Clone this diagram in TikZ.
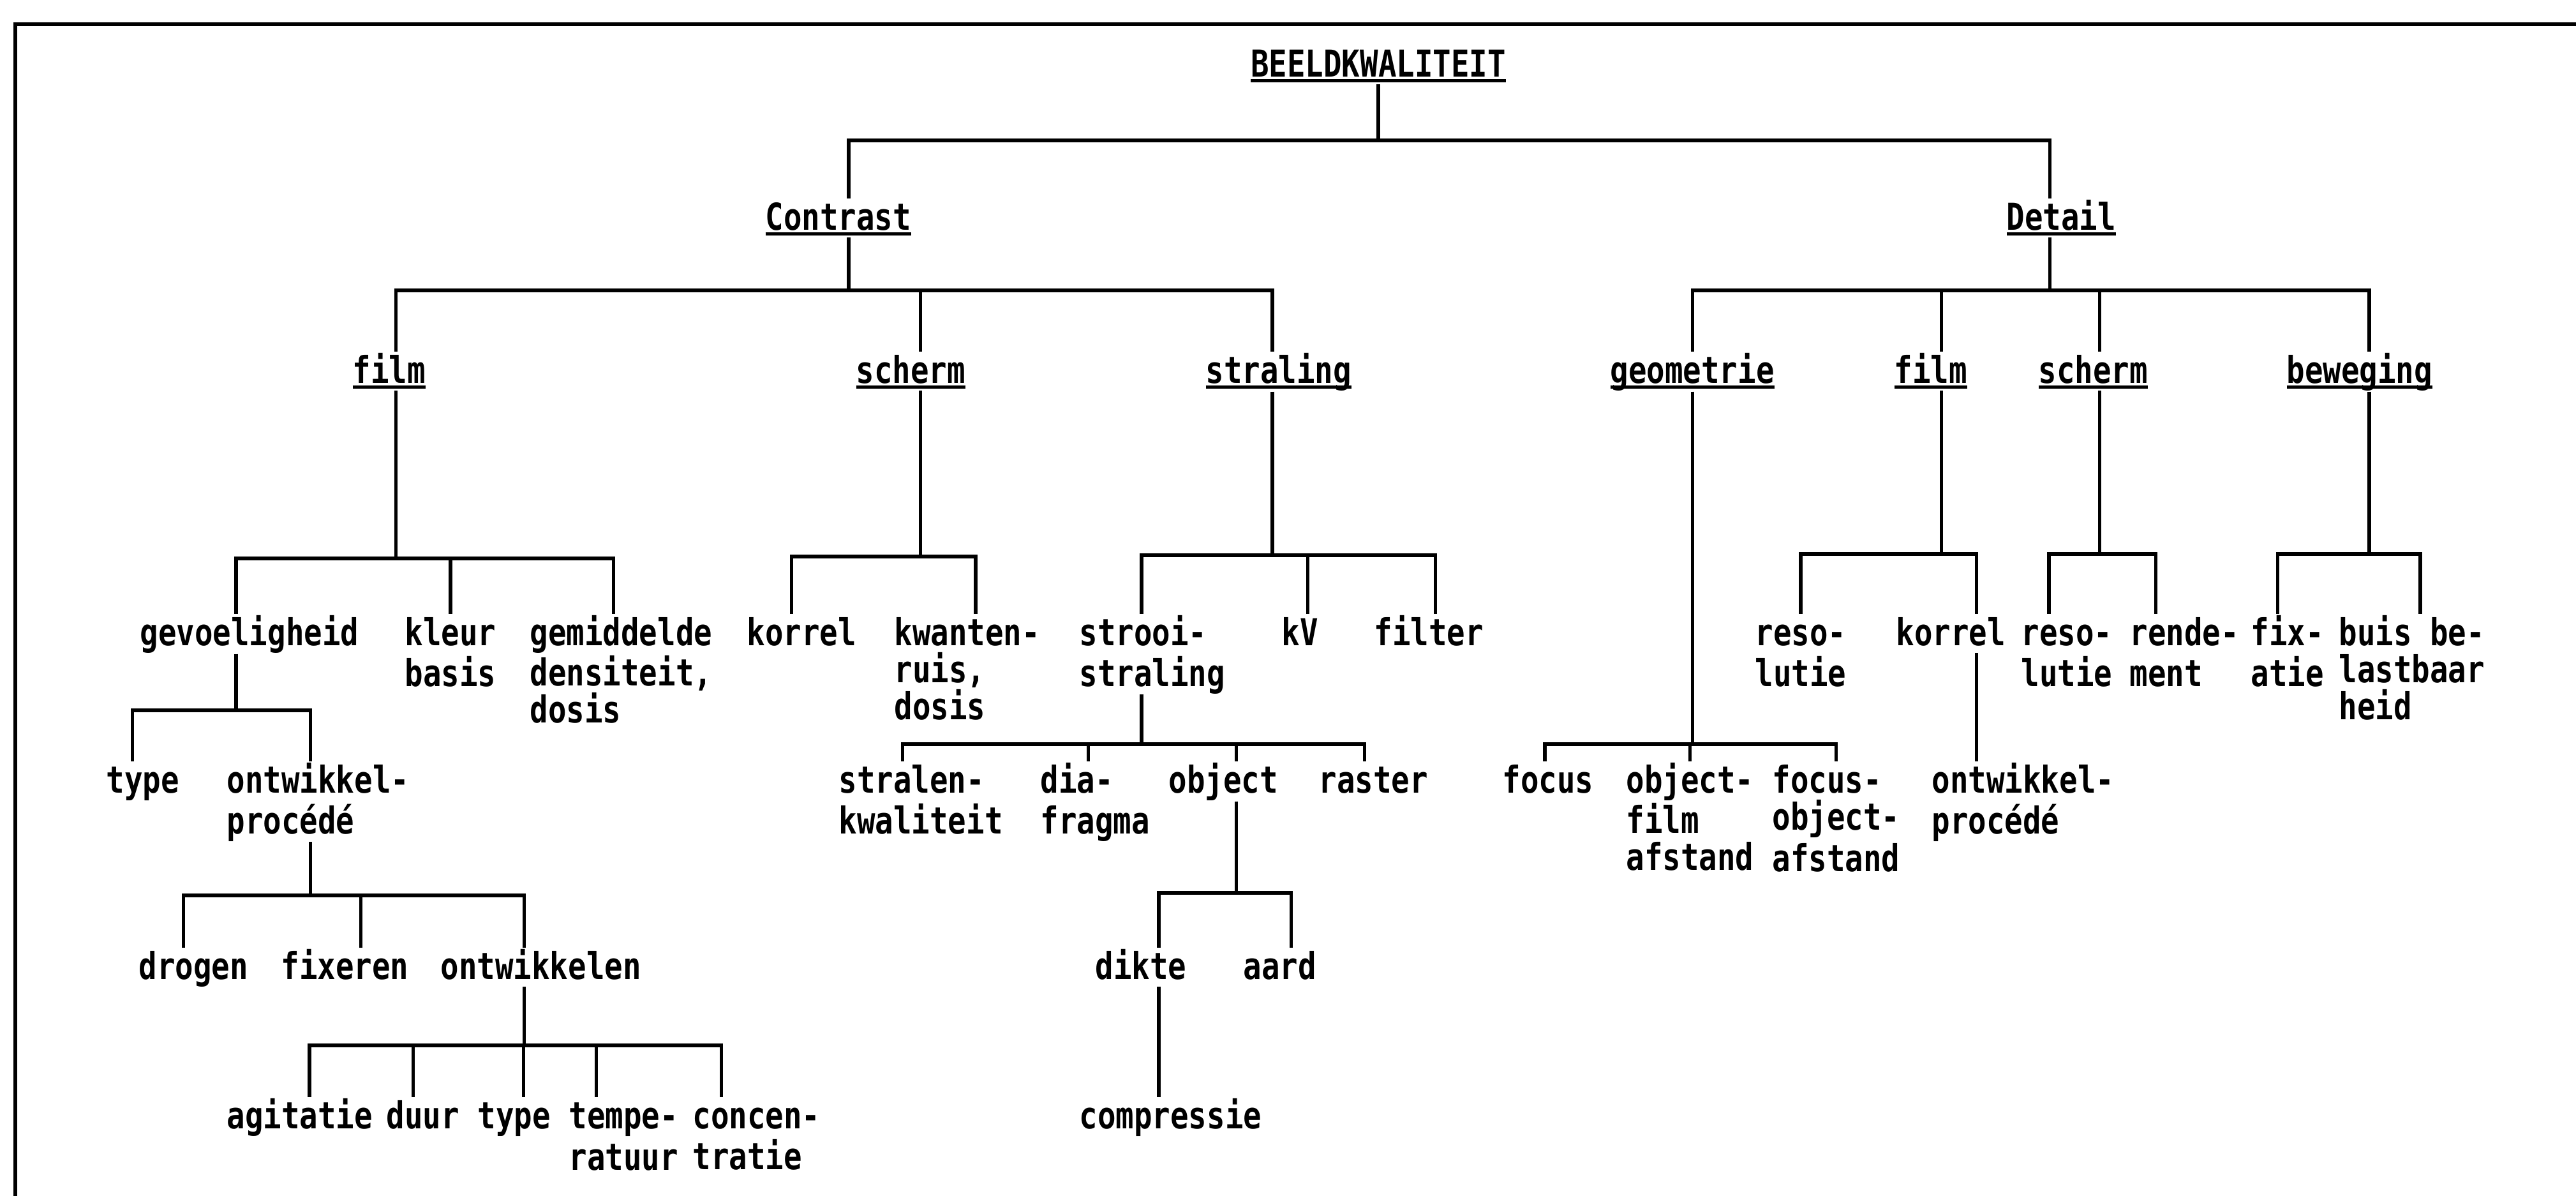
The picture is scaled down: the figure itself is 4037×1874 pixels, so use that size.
\documentclass[tikz,border=0pt]{standalone}
\usepackage{fontspec}
\newfontfamily\treefont{DejaVu Sans Mono}[FakeStretch=0.817]

\newsavebox\ulsave
\newcommand{\ulabel}[1]{\sbox\ulsave{#1}\rlap{\rule[-2.2pt]{\wd\ulsave}{1.2pt}}\usebox\ulsave}
\newcommand{\tstrut}{\rule[-3pt]{0pt}{17pt}}

\tikzset{
  lbl/.style={inner sep=0pt, anchor=north west, align=left,
    font={\treefont\bfseries\fontsize{16.5}{16.5}\selectfont}},
  link/.style={line width=1.5pt},
  frame/.style={line width=1.8pt}
}

\begin{document}
\begin{tikzpicture}[x=0.01cm, y=-0.01cm]

    \useasboundingbox (0,0) rectangle (4037,1874);

    % Frame (top and left only)
    \draw[frame] (4040,38) -- (24,38) -- (24,1880);

    % Top levels
    \node[lbl, anchor=north] (title) at (2160,71) {\tstrut\ulabel{BEELDKWALITEIT}};
    \node[lbl] (contrast) at (1199,311) {\tstrut\ulabel{Contrast}};
    \node[lbl] (detail) at (3144,311) {\tstrut\ulabel{Detail}};

    \node[lbl] (filmC) at (552,551) {\tstrut\ulabel{film}};
    \node[lbl] (schermC) at (1341,551) {\tstrut\ulabel{scherm}};
    \node[lbl] (straling) at (1889,551) {\tstrut\ulabel{straling}};
    \node[lbl] (geometrie) at (2523,551) {\tstrut\ulabel{geometrie}};
    \node[lbl] (filmD) at (2968,551) {\tstrut\ulabel{film}};
    \node[lbl] (schermD) at (3194,551) {\tstrut\ulabel{scherm}};
    \node[lbl] (beweging) at (3583,551) {\tstrut\ulabel{beweging}};

    % Third row
    \node[lbl] (gevoel) at (219,962) {\tstrut gevoeligheid\tstrut};
    \node[lbl] (kleur) at (634,962) {\tstrut kleur\\basis\tstrut};
    \node[lbl] (gemid) at (830,962) {\tstrut gemiddelde\\densiteit,\\dosis\tstrut};
    \node[lbl] (korrelC) at (1170,962) {\tstrut korrel\tstrut};
    \node[lbl] (kwanten) at (1401,962) {\tstrut kwanten-\\ruis,\\dosis\tstrut};
    \node[lbl] (strooi) at (1691,962) {\tstrut strooi-\\straling\tstrut};
    \node[lbl] (kV) at (2008,962) {\tstrut kV\tstrut};
    \node[lbl] (filter) at (2153,962) {\tstrut filter\tstrut};
    \node[lbl] (resoF) at (2750,962) {\tstrut reso-\\lutie\tstrut};
    \node[lbl] (korrelD) at (2971,962) {\tstrut korrel\tstrut};
    \node[lbl] (resoS) at (3167,962) {\tstrut reso-\\lutie\tstrut};
    \node[lbl] (rende) at (3337,962) {\tstrut rende-\\ment\tstrut};
    \node[lbl] (fix) at (3527,962) {\tstrut fix-\\atie\tstrut};
    \node[lbl] (buis) at (3665,962) {\tstrut buis be-\\lastbaar\\heid\tstrut};

    % Fourth row
    \node[lbl] (typeG) at (166,1193) {\tstrut type\tstrut};
    \node[lbl] (ontwG) at (355,1193) {\tstrut ontwikkel-\\procédé\tstrut};
    \node[lbl] (stralen) at (1314,1193) {\tstrut stralen-\\kwaliteit\tstrut};
    \node[lbl] (dia) at (1630,1193) {\tstrut dia-\\fragma\tstrut};
    \node[lbl] (object) at (1831,1193) {\tstrut object\tstrut};
    \node[lbl] (raster) at (2066,1193) {\tstrut raster\tstrut};
    \node[lbl] (focus) at (2354,1193) {\tstrut focus\tstrut};
    \node[lbl] (objfilm) at (2548,1193) {\tstrut object-\\film\\afstand\tstrut};
    \node[lbl] (focobj) at (2777,1193) {\tstrut focus-\\object-\\afstand\tstrut};
    \node[lbl] (ontwK) at (3027,1193) {\tstrut ontwikkel-\\procédé\tstrut};

    % Fifth row
    \node[lbl] (drogen) at (217,1485) {\tstrut drogen\tstrut};
    \node[lbl] (fixeren) at (440,1485) {\tstrut fixeren\tstrut};
    \node[lbl] (ontwikkelen) at (690,1485) {\tstrut ontwikkelen\tstrut};
    \node[lbl] (dikte) at (1716,1485) {\tstrut dikte\tstrut};
    \node[lbl] (aard) at (1948,1485) {\tstrut aard\tstrut};

    % Bottom row
    \node[lbl] (agitatie) at (355,1719) {\tstrut agitatie\tstrut};
    \node[lbl] (duur) at (605,1719) {\tstrut duur\tstrut};
    \node[lbl] (typeO) at (748,1719) {\tstrut type\tstrut};
    \node[lbl] (tempe) at (891,1719) {\tstrut tempe-\\ratuur\tstrut};
    \node[lbl] (concen) at (1085,1719) {\tstrut concen-\\tratie\tstrut};
    \node[lbl] (compressie) at (1691,1719) {\tstrut compressie\tstrut};

    % BEELDKWALITEIT
    \draw[link] (title.south) |- ([xshift=0.16cm, yshift=0.91cm]contrast.north) -- ([xshift=0.16cm]contrast.north);
    \draw[link] (title.south) |- ([xshift=-0.18cm, yshift=0.91cm]detail.north) -- ([xshift=-0.18cm]detail.north);

    % Contrast
    \draw[link] ([xshift=0.16cm]contrast.south) |- ([xshift=0.11cm, yshift=0.96cm]filmC.north) -- ([xshift=0.11cm]filmC.north);
    \draw[link] ([xshift=0.16cm]contrast.south) |- ([xshift=0.15cm, yshift=0.96cm]schermC.north) -- ([xshift=0.15cm]schermC.north);
    \draw[link] ([xshift=0.16cm]contrast.south) |- ([xshift=-0.10cm, yshift=0.96cm]straling.north) -- ([xshift=-0.10cm]straling.north);

    % Detail
    \draw[link] ([xshift=-0.18cm]detail.south) |- ([yshift=0.96cm]geometrie.north) -- (geometrie.north);
    \draw[link] ([xshift=-0.18cm]detail.south) |- ([xshift=0.17cm, yshift=0.96cm]filmD.north) -- ([xshift=0.17cm]filmD.north);
    \draw[link] ([xshift=-0.18cm]detail.south) |- ([xshift=0.10cm, yshift=0.96cm]schermD.north) -- ([xshift=0.10cm]schermD.north);
    \draw[link] ([xshift=-0.18cm]detail.south) |- ([xshift=0.15cm, yshift=0.96cm]beweging.north) -- ([xshift=0.15cm]beweging.north);

    % film (contrast)
    \draw[link] ([xshift=0.11cm]filmC.south) |- ([xshift=-0.21cm, yshift=0.87cm]gevoel.north) -- ([xshift=-0.21cm]gevoel.north);
    \draw[link] ([xshift=0.11cm]filmC.south) |- ([yshift=0.87cm]kleur.north) -- (kleur.north);
    \draw[link] ([xshift=0.11cm]filmC.south) |- ([xshift=-0.12cm, yshift=0.87cm]gemid.north) -- ([xshift=-0.12cm]gemid.north);

    % scherm (contrast)
    \draw[link] ([xshift=0.15cm]schermC.south) |- ([xshift=-0.16cm, yshift=0.90cm]korrelC.north) -- ([xshift=-0.16cm]korrelC.north);
    \draw[link] ([xshift=0.15cm]schermC.south) |- ([xshift=0.13cm, yshift=0.90cm]kwanten.north) -- ([xshift=0.13cm]kwanten.north);

    % straling
    \draw[link] ([xshift=-0.10cm]straling.south) |- ([xshift=-0.17cm, yshift=0.92cm]strooi.north) -- ([xshift=-0.17cm]strooi.north);
    \draw[link] ([xshift=-0.10cm]straling.south) |- ([xshift=0.12cm, yshift=0.92cm]kV.north) -- ([xshift=0.12cm]kV.north);
    \draw[link] ([xshift=-0.10cm]straling.south) |- ([xshift=0.10cm, yshift=0.92cm]filter.north) -- ([xshift=0.10cm]filter.north);

    % geometrie
    \draw[link] (geometrie.south) |- ([xshift=-0.05cm, yshift=0.27cm]focus.north) -- ([xshift=-0.05cm]focus.north);
    \draw[link] (geometrie.south) |- ([yshift=0.27cm]objfilm.north) -- (objfilm.north);
    \draw[link] (geometrie.south) |- ([yshift=0.27cm]focobj.north) -- (focobj.north);

    % film (detail)
    \draw[link] ([xshift=0.17cm]filmD.south) |- ([yshift=0.94cm]resoF.north) -- (resoF.north);
    \draw[link] ([xshift=0.17cm]filmD.south) |- ([xshift=0.40cm, yshift=0.94cm]korrelD.north) -- ([xshift=0.40cm]korrelD.north);

    % scherm (detail)
    \draw[link] ([xshift=0.10cm]schermD.south) |- ([xshift=-0.28cm, yshift=0.94cm]resoS.north) -- ([xshift=-0.28cm]resoS.north);
    \draw[link] ([xshift=0.10cm]schermD.south) |- ([xshift=-0.45cm, yshift=0.94cm]rende.north) -- ([xshift=-0.45cm]rende.north);

    % beweging
    \draw[link] ([xshift=0.15cm]beweging.south) |- ([xshift=-0.15cm, yshift=0.94cm]fix.north) -- ([xshift=-0.15cm]fix.north);
    \draw[link] ([xshift=0.15cm]beweging.south) |- ([xshift=0.13cm, yshift=0.94cm]buis.north) -- ([xshift=0.13cm]buis.north);

    % gevoeligheid
    \draw[link] ([xshift=-0.21cm]gevoel.south) |- ([xshift=-0.16cm, yshift=0.80cm]typeG.north) -- ([xshift=-0.16cm]typeG.north);
    \draw[link] ([xshift=-0.21cm]gevoel.south) |- ([xshift=-0.12cm, yshift=0.80cm]ontwG.north) -- ([xshift=-0.12cm]ontwG.north);

    % strooistraling
    \draw[link] ([xshift=-0.17cm]strooi.south) |- ([xshift=-0.29cm, yshift=0.27cm]stralen.north) -- ([xshift=-0.29cm]stralen.north);
    \draw[link] ([xshift=-0.17cm]strooi.south) |- ([xshift=-0.11cm, yshift=0.27cm]dia.north) -- ([xshift=-0.11cm]dia.north);
    \draw[link] ([xshift=-0.17cm]strooi.south) |- ([xshift=0.20cm, yshift=0.27cm]object.north) -- ([xshift=0.20cm]object.north);
    \draw[link] ([xshift=-0.17cm]strooi.south) |- ([xshift=-0.14cm, yshift=0.27cm]raster.north) -- ([xshift=-0.14cm]raster.north);

    % korrel (detail)
    \draw[link] ([xshift=0.40cm]korrelD.south) -- ([xshift=0.40cm]korrelD.south |- ontwK.north);

    % ontwikkelprocede
    \draw[link] ([xshift=-0.12cm]ontwG.south) |- ([xshift=-0.16cm, yshift=0.82cm]drogen.north) -- ([xshift=-0.16cm]drogen.north);
    \draw[link] ([xshift=-0.12cm]ontwG.south) |- ([xshift=0.25cm, yshift=0.82cm]fixeren.north) -- ([xshift=0.25cm]fixeren.north);
    \draw[link] ([xshift=-0.12cm]ontwG.south) |- ([xshift=-0.26cm, yshift=0.82cm]ontwikkelen.north) -- ([xshift=-0.26cm]ontwikkelen.north);

    % object
    \draw[link] ([xshift=0.20cm]object.south) |- ([xshift=0.28cm, yshift=0.86cm]dikte.north) -- ([xshift=0.28cm]dikte.north);
    \draw[link] ([xshift=0.20cm]object.south) |- ([xshift=0.18cm, yshift=0.86cm]aard.north) -- ([xshift=0.18cm]aard.north);

    % ontwikkelen
    \draw[link] ([xshift=-0.26cm]ontwikkelen.south) |- ([xshift=0.15cm, yshift=0.81cm]agitatie.north) -- ([xshift=0.15cm]agitatie.north);
    \draw[link] ([xshift=-0.26cm]ontwikkelen.south) |- ([xshift=-0.15cm, yshift=0.81cm]duur.north) -- ([xshift=-0.15cm]duur.north);
    \draw[link] ([xshift=-0.26cm]ontwikkelen.south) |- ([xshift=0.15cm, yshift=0.81cm]typeO.north) -- ([xshift=0.15cm]typeO.north);
    \draw[link] ([xshift=-0.26cm]ontwikkelen.south) |- ([xshift=-0.43cm, yshift=0.81cm]tempe.north) -- ([xshift=-0.43cm]tempe.north);
    \draw[link] ([xshift=-0.26cm]ontwikkelen.south) |- ([xshift=-0.55cm, yshift=0.81cm]concen.north) -- ([xshift=-0.55cm]concen.north);

    % dikte
    \draw[link] ([xshift=0.28cm]dikte.south) -- ([xshift=0.28cm]dikte.south |- compressie.north);

\end{tikzpicture}
\end{document}
